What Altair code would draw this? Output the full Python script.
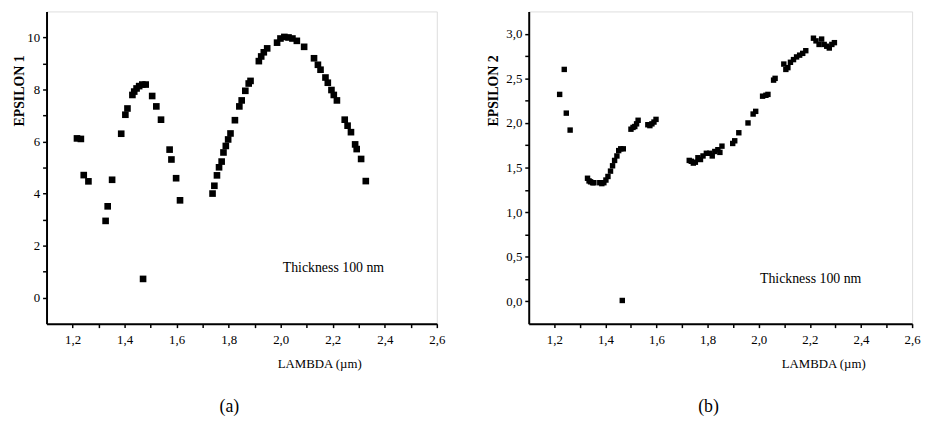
import altair as alt
import pandas as pd

# ---- data ----
lam1 = [1.217, 1.232, 1.243, 1.261, 1.327, 1.335, 1.352, 1.387, 1.403, 1.411,
        1.430, 1.437, 1.446, 1.456, 1.468, 1.481, 1.471, 1.506, 1.522, 1.540,
        1.573, 1.580, 1.598, 1.613,
        1.738, 1.745, 1.755, 1.763, 1.773, 1.780, 1.789, 1.798, 1.807, 1.824,
        1.841, 1.850, 1.864, 1.877, 1.884, 1.916, 1.925, 1.935, 1.948, 1.986,
        1.999, 2.014, 2.030, 2.045, 2.062, 2.090, 2.128, 2.143, 2.153, 2.172,
        2.181, 2.195, 2.204, 2.216, 2.246, 2.257, 2.270, 2.286, 2.292, 2.309,
        2.327]
eps1 = [6.12, 6.10, 4.71, 4.47, 2.95, 3.51, 4.53, 6.30, 7.03, 7.27,
        7.79, 7.92, 8.04, 8.13, 8.19, 8.19, 0.72, 7.75, 7.35, 6.84,
        5.69, 5.31, 4.59, 3.74,
        4.00, 4.30, 4.70, 5.01, 5.23, 5.58, 5.83, 6.08, 6.31, 6.82,
        7.35, 7.58, 7.95, 8.23, 8.33, 9.09, 9.27, 9.43, 9.58, 9.80,
        9.96, 10.02, 10.00, 9.96, 9.87, 9.64, 9.20, 8.95, 8.76, 8.46,
        8.26, 7.98, 7.79, 7.58, 6.84, 6.61, 6.36, 5.89, 5.71, 5.33,
        4.48]

lam2 = [1.221, 1.239, 1.247, 1.262,
        1.330, 1.336, 1.342, 1.350, 1.355,
        1.378, 1.386, 1.394, 1.402, 1.410,
        1.420, 1.428, 1.436, 1.445, 1.452, 1.460, 1.470,
        1.466,
        1.500, 1.508, 1.515, 1.522, 1.528,
        1.566, 1.574, 1.582, 1.590, 1.598,
        1.728, 1.736, 1.744, 1.752, 1.762, 1.772, 1.782, 1.795, 1.808, 1.818,
        1.828, 1.840, 1.848, 1.856,
        1.898, 1.906, 1.922,
        1.958, 1.978, 1.988,
        2.015, 2.028, 2.036,
        2.058, 2.064,
        2.098, 2.106, 2.114, 2.124, 2.136, 2.148, 2.160, 2.172, 2.184,
        2.214, 2.224, 2.236, 2.246, 2.256, 2.266, 2.276, 2.286, 2.296]
eps2 = [2.32, 2.60, 2.11, 1.92,
        1.38, 1.35, 1.34, 1.33, 1.33,
        1.33, 1.32, 1.33, 1.36, 1.40,
        1.46, 1.52, 1.58, 1.63, 1.69, 1.71, 1.71,
        0.01,
        1.93, 1.95, 1.96, 1.99, 2.03,
        1.98, 1.97, 1.99, 2.01, 2.04,
        1.58, 1.57, 1.55, 1.56, 1.61, 1.59, 1.63, 1.66, 1.66, 1.63,
        1.68, 1.70, 1.67, 1.74,
        1.77, 1.80, 1.89,
        2.00, 2.10, 2.13,
        2.30, 2.31, 2.32,
        2.48, 2.50,
        2.66, 2.60, 2.62, 2.68, 2.71, 2.74, 2.76, 2.78, 2.81,
        2.95, 2.92, 2.88, 2.94, 2.88, 2.86, 2.84, 2.88, 2.90]

x_ticks = [1.2, 1.3, 1.4, 1.5, 1.6, 1.7, 1.8, 1.9, 2.0, 2.1, 2.2, 2.3, 2.4, 2.5, 2.6]
y1_ticks = [0, 1, 2, 3, 4, 5, 6, 7, 8, 9, 10]
y2_ticks = [0.0, 0.25, 0.5, 0.75, 1.0, 1.25, 1.5, 1.75, 2.0, 2.25, 2.5, 2.75, 3.0]
note = "Thickness 100 nm"
x_title = "LAMBDA (µm)"
y1_title = "EPSILON 1"
y2_title = "EPSILON 2"
panel_a = "(a)"
panel_b = "(b)"

df1 = pd.DataFrame({"lam": lam1, "eps": eps1})
df2 = pd.DataFrame({"lam": lam2, "eps": eps2})

FONT = "Liberation Serif"
W1, W2, H = 395, 388, 316

comma1 = "replace(format(datum.value, '.1f'), '.', ',')"
x_label_expr = "abs(round(datum.value*10)) % 2 == 0 ? " + comma1 + " : ''"
y1_label_expr = "abs(round(datum.value)) % 2 == 0 ? format(datum.value, 'd') : ''"
y2_label_expr = "abs(round(datum.value*4)) % 2 == 0 ? " + comma1 + " : ''"

common_axis = dict(grid=False, domainColor="black", domainWidth=2, tickColor="black",
                   tickWidth=1.5, tickSize=4, labelFont=FONT, labelFontSize=13,
                   labelColor="black", titleFont=FONT, titleColor="black")


def x_axis(title_x):
    return alt.Axis(values=x_ticks, labelExpr=x_label_expr, labelPadding=6,
                    title=x_title, titleFontSize=13, titleFontWeight="normal",
                    titleX=title_x, titleY=40, titleBaseline="middle",
                    titleAlign="center", labelFlush=False, labelOverlap=False,
                    **common_axis)


def y_axis(values, expr, title, tx):
    return alt.Axis(values=values, labelExpr=expr, labelPadding=3,
                    title=title, titleFontSize=14, titleFontWeight="bold",
                    titleAngle=270, titleX=tx, titleY=80, titleAlign="center",
                    titleBaseline="bottom", labelOverlap=False, **common_axis)


def panel(df, ydom, yvals, yexpr, ytitle, tx, xtitle_x, width, size,
          note_x, note_y, tag, tag_x):
    pts = alt.Chart(df).mark_square(size=size, color="black", opacity=1).encode(
        x=alt.X("lam:Q", scale=alt.Scale(domain=[1.1, 2.6], nice=False, zero=False),
                axis=x_axis(xtitle_x)),
        y=alt.Y("eps:Q", scale=alt.Scale(domain=ydom, nice=False, zero=False),
                axis=y_axis(yvals, yexpr, ytitle, tx)),
    )
    txt = alt.Chart(pd.DataFrame({"t": [note]})).mark_text(
        font=FONT, fontSize=14, color="black", align="left", baseline="middle"
    ).encode(text="t:N", x=alt.value(note_x), y=alt.value(note_y))
    lab = alt.Chart(pd.DataFrame({"t": [tag]})).mark_text(
        font=FONT, fontSize=18, color="black", align="center", baseline="middle"
    ).encode(text="t:N", x=alt.value(tag_x), y=alt.value(400))
    return alt.layer(pts, txt, lab).properties(width=width, height=H)


left = panel(df1, [-1, 11], y1_ticks, y1_label_expr, y1_title, -20, 276, W1, 45,
             239, 260, panel_a, 185)
right = panel(df2, [-0.25, 3.25], y2_ticks, y2_label_expr, y2_title, -29, 298, W2, 30,
              234, 271, panel_b, 182)

chart = alt.hconcat(left, right, spacing=93, bounds="flush").properties(
    padding={"left": 4, "top": 0, "right": 0, "bottom": 0}
).configure_view(stroke=None).configure(background="white")

chart.save("out.html", embed_options={"renderer": "svg", "actions": False})
